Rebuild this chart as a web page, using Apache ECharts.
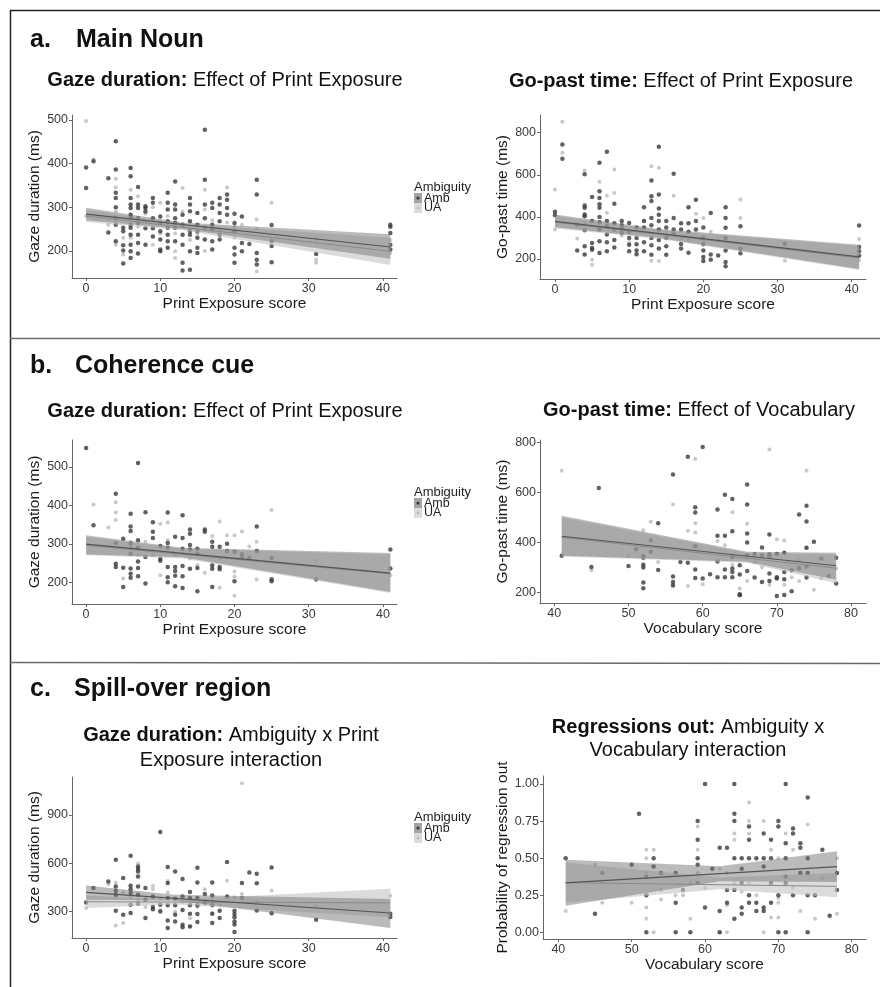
<!DOCTYPE html>
<html><head><meta charset="utf-8">
<script src="https://cdn.jsdelivr.net/npm/echarts@6/dist/echarts.min.js"></script>
<style>html,body{margin:0;padding:0;background:#fff}#c{width:880px;height:987px}</style>
</head><body><div id="c"></div>
<script>
// ---------------- DATA ----------------
const printTicks = [0, 10, 20, 30, 40];
const vocabTicks = [40, 50, 60, 70, 80];
const gazeTicksA = [200, 300, 400, 500];
const goPastTicksA = [200, 400, 600, 800];
const gazeTicksB = [200, 300, 400, 500];
const goPastTicksB = [200, 400, 600, 800];
const gazeTicksC = [300, 600, 900];
const probTicksC = [0, 0.25, 0.5, 0.75, 1];

// a. Main Noun - Gaze duration vs Print exposure
const aGazeAmb = [[0,391],[0,344],[1,405],[3,366],[3,242],[4,451],[4,386],[4,333],[4,321],[4,300],[4,275],[4,260],[4,222],
[5,253],[5,213],[5,201],[5,171],[5,245],[6,390],[6,371],[6,321],[6,306],[6,298],[6,283],[6,276],[6,260],[6,253],[6,237],[6,214],[6,199],[6,184],
[7,346],[7,306],[7,298],[7,275],[7,264],[7,237],[7,218],[7,194],[8,302],[8,298],[8,290],[8,252],[8,214],
[9,321],[9,310],[9,275],[9,252],[9,233],[10,279],[10,264],[10,245],[10,226],[10,203],[10,199],
[11,333],[11,310],[11,295],[11,268],[11,253],[11,237],[11,222],[11,207],[12,359],[12,306],[12,295],[12,275],[12,264],[12,253],[12,222],
[13,283],[13,260],[13,237],[13,214],[13,173],[13,155],[14,321],[14,306],[14,291],[14,268],[14,245],[14,237],[14,199],[14,157],
[15,287],[15,260],[15,245],[15,230],[15,207],[15,195],[16,477],[16,363],[16,306],[16,275],[16,253],[16,226],
[17,310],[17,298],[17,260],[17,249],[17,222],[17,203],[18,321],[18,306],[18,287],[18,268],[18,237],[18,226],
[19,329],[19,317],[19,298],[19,283],[20,285],[20,264],[20,245],[20,207],[20,192],[20,173],[21,279],[21,218],[21,199],[22,216],
[23,363],[23,329],[23,195],[23,180],[23,169],[25,259],[25,222],[25,211],[25,174],[31,193],[41,260],[41,255],[41,241],[41,214],[41,203]];
const aGazeUA = [[0,497],[0,280],[1,410],[3,260],[4,365],[4,345],[4,290],[4,214],[5,192],[5,230],[6,340],[6,280],[6,230],[7,325],[7,255],[8,285],[8,268],
[9,300],[9,214],[10,310],[10,240],[11,280],[12,199],[12,184],[12,240],[13,344],[13,290],[14,250],[14,225],[15,240],[16,340],[16,200],[16,295],[17,270],
[18,250],[19,345],[19,265],[20,230],[20,255],[21,260],[23,272],[23,153],[23,250],[25,310],[31,228],[31,180],[31,173],[41,195],[41,225]];
const aGazeBandAmb = [[0,270,299],[13,250,265],[41,182,238]];
const aGazeBandUA = [[0,266,294],[13,247,262],[41,168,230]];
const aGazeLineAmb = [[0,284],[41,209]];
const aGazeLineUA = [[0,280],[41,199]];

// a. Main Noun - Go-past time vs Print exposure
const aGoAmb = [[0,424],[0,408],[1,744],[1,676],[3,363],[3,240],[4,602],[4,454],[4,443],[4,411],[4,403],[4,337],[4,260],[4,221],
[5,494],[5,380],[5,276],[5,252],[5,244],[6,657],[6,522],[6,490],[6,460],[6,443],[6,400],[6,375],[6,340],[6,284],[6,229],
[7,710],[7,380],[7,355],[7,316],[7,280],[7,237],[8,462],[8,370],[8,340],[8,290],[8,255],[9,380],[9,360],[9,345],[9,324],
[10,371],[10,330],[10,300],[10,268],[10,237],[11,350],[11,300],[11,270],[11,240],[11,222],[12,446],[12,380],[12,350],[12,280],[12,237],
[13,573],[13,498],[13,475],[13,395],[13,360],[13,300],[13,265],[13,220],[14,733],[14,506],[14,440],[14,410],[14,380],[14,340],[14,290],[14,250],
[15,380],[15,350],[15,300],[15,260],[15,220],[16,605],[16,395],[16,340],[16,320],[17,370],[17,340],[17,271],[17,250],
[18,446],[18,370],[18,330],[18,230],[19,481],[19,380],[19,340],[20,350],[20,300],[20,270],[20,240],[20,210],[20,190],
[21,419],[21,221],[21,197],[22,217],[23,446],[23,395],[23,348],[23,300],[23,240],[23,186],[23,165],[25,356],[25,249],[25,227],
[31,273],[41,359],[41,257],[41,237],[41,216]];
const aGoUA = [[0,530],[0,340],[1,852],[1,705],[3,297],[4,620],[4,370],[5,197],[5,173],[6,567],[6,340],[7,500],[7,420],[8,625],[8,514],
[9,310],[10,280],[12,380],[13,192],[13,640],[14,633],[14,190],[15,330],[16,500],[17,300],[18,290],[19,415],[20,395],[20,280],[21,330],
[22,290],[25,483],[25,395],[31,192],[41,295],[41,194]];
const aGoBandAmb = [[0,351,411],[14,300,342],[41,152,268]];
const aGoBandUA = [[0,345,405],[14,296,338],[41,148,262]];
const aGoLineAmb = [[0,379],[41,210]];
const aGoLineUA = [[0,375],[41,205]];

// b. Coherence cue - Gaze duration vs Print exposure
const bGazeAmb = [[0,549],[1,348],[4,430],[4,302],[4,248],[4,240],[5,313],[5,238],[5,188],
[6,378],[6,345],[6,333],[6,300],[6,274],[6,236],[6,222],[6,212],[7,510],[7,309],[7,290],[7,254],[7,237],[7,216],
[8,382],[8,266],[8,197],[9,356],[9,331],[9,315],[10,294],[10,261],[10,256],[11,381],[11,302],[11,290],[11,240],[11,213],[11,200],
[12,318],[12,240],[12,229],[12,217],[12,190],[13,374],[13,315],[13,287],[13,242],[13,216],[13,185],
[14,337],[14,326],[14,297],[14,285],[14,235],[15,287],[15,274],[15,237],[15,177],[16,337],[16,331],
[17,305],[17,292],[17,244],[17,235],[17,188],[18,292],[18,240],[18,234],[19,300],[19,281],[20,279],[20,203],
[21,273],[21,263],[22,263],[23,345],[23,281],[25,263],[25,208],[25,203],[31,207],[41,285],[41,236]];
const bGazeUA = [[1,402],[3,342],[4,408],[4,381],[4,362],[5,210],[6,305],[6,290],[7,285],[7,270],[8,305],[9,270],[10,352],[10,218],
[11,355],[11,310],[12,270],[13,285],[14,262],[15,245],[16,225],[17,320],[18,358],[18,262],[18,186],[19,322],[20,322],[20,228],[20,215],[20,165],
[21,332],[22,293],[23,305],[23,207],[25,388],[31,256],[41,218]];
const bGazeBandAmb = [[0,272,322],[13,265,290],[41,175,276]];
const bGazeBandUA = [[0,270,318],[13,262,287],[41,172,272]];
const bGazeLineAmb = [[0,299],[41,224]];
const bGazeLineUA = [[0,296],[41,222]];

// b. Coherence cue - Go-past time vs Vocabulary
const bGoAmb = [[41,346],[45,301],[46,617],[50,305],[51,372],[52,344],[52,338],[52,310],[52,299],[52,239],[52,216],
[53,408],[53,362],[54,476],[54,289],[56,671],[56,263],[56,241],[56,227],[57,321],[58,742],[58,318],
[59,540],[59,519],[59,384],[59,291],[59,257],[60,781],[60,255],[61,272],[62,531],[62,426],[62,323],[62,260],
[63,590],[63,426],[63,291],[63,260],[64,573],[64,444],[64,341],[64,295],[64,281],[64,260],[65,308],[65,271],[65,192],[65,188],
[66,631],[66,551],[66,435],[66,399],[66,348],[66,285],[67,352],[67,259],[68,379],[68,348],[68,241],
[69,431],[69,351],[69,344],[69,275],[69,245],[70,353],[70,255],[70,260],[70,185],[71,358],[71,281],[71,252],[71,189],
[72,288],[72,204],[73,511],[73,297],[74,546],[74,483],[74,378],[74,303],[74,259],[75,402],[76,335],[77,265],[78,338],[78,235]];
const bGoUA = [[41,686],[45,288],[50,347],[52,448],[53,482],[54,321],[56,551],[56,230],[58,446],[58,225],[59,733],[59,476],[59,439],
[60,232],[62,405],[63,388],[64,520],[64,310],[65,215],[66,474],[66,245],[67,320],[68,300],[69,771],[69,230],[70,412],[71,407],[71,230],
[72,260],[73,245],[73,330],[74,686],[74,378],[75,210],[76,255],[78,295]];
const bGoBandAmb = [[41,346,506],[66,322,362],[78,250,358]];
const bGoBandUA = [[41,343,500],[66,318,357],[78,236,352]];
const bGoLineAmb = [[41,424],[78,306]];
const bGoLineUA = [[41,420],[78,296]];

// c. Spill-over region - Gaze duration vs Print exposure
const cGazeAmb = [[0,358],[1,447],[3,488],[4,623],[4,457],[4,430],[4,405],[4,306],[5,509],[5,281],
[6,648],[6,461],[6,440],[6,416],[6,343],[6,292],[7,581],[7,565],[7,550],[7,519],[7,457],[7,405],[7,350],
[8,447],[8,374],[8,261],[9,395],[9,330],[9,315],[10,795],[10,343],[10,302],[11,577],[11,478],[11,385],[11,340],[11,246],[11,199],
[12,550],[12,380],[12,340],[12,281],[12,240],[13,503],[13,395],[13,310],[13,219],[13,203],[14,422],[14,385],[14,340],[14,288],[14,209],
[15,573],[15,482],[15,385],[15,340],[15,286],[15,236],[16,410],[16,355],[17,482],[17,401],[17,340],[17,288],[17,230],
[18,306],[18,261],[19,608],[19,395],[20,306],[20,286],[20,265],[20,240],[20,220],[20,174],[21,478],[21,385],[22,544],
[23,536],[23,476],[23,308],[25,575],[25,290],[31,250],[41,288],[41,267]];
const cGazeUA = [[0,323],[3,470],[4,215],[4,480],[5,230],[5,420],[6,395],[7,600],[7,370],[8,330],[9,460],[9,440],[10,380],[10,310],
[11,490],[11,420],[12,300],[13,360],[14,210],[14,260],[15,330],[16,440],[17,365],[17,290],[18,340],[19,492],[20,390],[21,1097],[21,410],
[23,360],[25,432],[31,333],[41,399]];
const cGazeBandAmb = [[0,375,463],[12,370,405],[41,199,379]];
const cGazeBandUA = [[0,323,400],[12,345,375],[41,265,443]];
const cGazeLineAmb = [[0,420],[41,292]];
const cGazeLineUA = [[0,362],[41,355]];

// c. Spill-over region - Regressions out vs Vocabulary
const cRegAmb = [[41,0.5],[45,0.125],[46,0.4],[50,0.455],[51,0.8],[52,0.375],[52,0.25],[52,0],[53,0.5],[53,0.444],[54,0.4],
[56,0.4],[56,0.2],[56,0],[57,0.286],[58,0],[59,0.75],[59,0.625],[59,0.5],[59,0.455],[59,0.333],[60,1],[60,0.167],[61,0.429],
[62,0.571],[62,0.143],[62,0],[63,0.571],[63,0.286],[63,0.2],[64,1],[64,0.8],[64,0.75],[64,0.5],[64,0.286],[64,0.091],
[65,0.5],[65,0.429],[65,0.333],[65,0.167],[65,0.125],[66,0.714],[66,0.625],[66,0.5],[66,0.25],[66,0.2],[67,0.5],[67,0.2],[67,0.143],
[68,0.667],[68,0.5],[68,0.444],[68,0.167],[68,0.143],[69,0.625],[69,0.5],[69,0.333],[69,0.2],[70,0.75],[70,0.714],[70,0.25],[70,0],
[71,1],[71,0.6],[71,0.5],[71,0.375],[71,0.333],[71,0],[72,0.7],[72,0.667],[72,0.25],[73,0.6],[73,0.571],[73,0.4],
[74,0.909],[74,0.5],[74,0.4],[74,0.25],[74,0],[75,0.25],[76,0.556],[77,0.111],[78,0.4],[78,0.286]];
const cRegUA = [[41,0.143],[45,0.455],[46,0.2],[50,0.2],[52,0.556],[52,0.5],[52,0.4],[52,0.167],[52,0.091],[53,0.556],[53,0],[54,0.286],[54,0.222],
[56,0.25],[57,0.25],[58,0.091],[58,0.333],[59,0.714],[59,0.556],[59,0.4],[60,0.3],[62,0.429],[62,0],[63,0.4],[63,0.182],[63,0],
[64,0.667],[64,0.625],[64,0.333],[65,0.273],[66,0.875],[66,0.75],[66,0.667],[66,0.333],[67,0.25],[68,0.75],[68,0],[69,0.556],[69,0.1],
[70,0.5],[70,0.231],[70,0.2],[70,0.1],[71,0.667],[72,0.556],[72,0.3],[73,0.143],[74,0.727],[75,0.091],[76,0.364],[78,0.5],[78,0.125]];
const cRegBandAmb = [[41,0.18,0.49],[62,0.345,0.445],[78,0.34,0.546]];
const cRegBandUA = [[41,0.2,0.47],[62,0.29,0.37],[78,0.236,0.40]];
const cRegLineAmb = [[41,0.333],[78,0.443]];
const cRegLineUA = [[41,0.335],[78,0.31]];

// ---------------- LAYOUT / STYLE ----------------
const FF = 'Liberation Sans, Arial, sans-serif';
const AMB_PT = '#3a3a3a', UA_PT = '#bcbcbc';
const AMB_BAND = 'rgba(120,120,120,0.5)', UA_BAND = 'rgba(195,195,195,0.6)';

const panels = [
  {grid:{left:72, top:115, width:325, height:163}, xr:[-1.9,41.9], yr:[138,511], xt:printTicks, yt:gazeTicksA, xn:'Print Exposure score', yn:'Gaze duration (ms)',
   amb:aGazeAmb, ua:aGazeUA, bA:aGazeBandAmb, bU:aGazeBandUA, lA:aGazeLineAmb, lU:aGazeLineUA},
  {grid:{left:540, top:115, width:326, height:164}, xr:[-2.02,41.93], yr:[105,884], xt:printTicks, yt:goPastTicksA, xn:'Print Exposure score', yn:'Go-past time (ms)',
   amb:aGoAmb, ua:aGoUA, bA:aGoBandAmb, bU:aGoBandUA, lA:aGoLineAmb, lU:aGoLineUA},
  {grid:{left:72, top:440, width:325, height:164}, xr:[-1.9,41.9], yr:[143.6,569.6], xt:printTicks, yt:gazeTicksB, xn:'Print Exposure score', yn:'Gaze duration (ms)',
   amb:bGazeAmb, ua:bGazeUA, bA:bGazeBandAmb, bU:bGazeBandUA, lA:bGazeLineAmb, lU:bGazeLineUA},
  {grid:{left:540, top:440, width:326, height:163}, xr:[38.07,82.02], yr:[157,809], xt:vocabTicks, yt:goPastTicksB, xn:'Vocabulary score', yn:'Go-past time (ms)',
   amb:bGoAmb, ua:bGoUA, bA:bGoBandAmb, bU:bGoBandUA, lA:bGoLineAmb, lU:bGoLineUA},
  {grid:{left:72, top:777, width:325, height:161}, xr:[-1.9,41.9], yr:[137,1136], xt:printTicks, yt:gazeTicksC, xn:'Print Exposure score', yn:'Gaze duration (ms)',
   amb:cGazeAmb, ua:cGazeUA, bA:cGazeBandAmb, bU:cGazeBandUA, lA:cGazeLineAmb, lU:cGazeLineUA},
  {grid:{left:543, top:776, width:323, height:163}, xr:[37.91,81.95], yr:[-0.045,1.054], xt:vocabTicks, yt:probTicksC, xn:'Vocabulary score', yn:'Probability of regression out',
   amb:cRegAmb, ua:cRegUA, bA:cRegBandAmb, bU:cRegBandUA, lA:cRegLineAmb, lU:cRegLineUA, fmt:v=>v.toFixed(2)}
];

function axisCommon(ticks, fmt) {
  return {
    type:'value', splitLine:{show:false},
    axisLine:{show:true, onZero:false, lineStyle:{color:'#666', width:1}},
    axisTick:{show:true, length:3, customValues:ticks, lineStyle:{color:'#666', width:1}},
    axisLabel:{customValues:ticks, margin:4, fontFamily:FF, fontSize:12.5, color:'#3a3a3a', formatter: fmt || (v=>String(v))},
    nameLocation:'middle', nameTextStyle:{fontFamily:FF, fontSize:15.5, color:'#1a1a1a'}
  };
}

function bandSeries(gi, rows, color) {
  return {type:'custom', xAxisIndex:gi, yAxisIndex:gi, data:rows, z:4, silent:true, clip:true,
    encode:{x:0, y:[1,2]},
    renderItem:function(params, api){
      if (params.dataIndex !== 0) return null;
      const up = rows.map(r => api.coord([r[0], r[2]]));
      const lo = rows.map(r => api.coord([r[0], r[1]])).reverse();
      return {type:'polygon', shape:{points:up.concat(lo)}, style:{fill:color, stroke:null}};
    }};
}

const grid = [], xAxis = [], yAxis = [], series = [];
panels.forEach((p, i) => {
  grid.push(Object.assign({containLabel:false}, p.grid));
  xAxis.push(Object.assign(axisCommon(p.xt), {gridIndex:i, min:p.xr[0], max:p.xr[1], name:p.xn, nameGap:15}));
  yAxis.push(Object.assign(axisCommon(p.yt, p.fmt), {gridIndex:i, min:p.yr[0], max:p.yr[1], name:p.yn, nameGap:29}));
  series.push({type:'scatter', name:'UA', xAxisIndex:i, yAxisIndex:i, data:p.ua, symbolSize:4, itemStyle:{color:UA_PT}, z:2, silent:true});
  series.push({type:'scatter', name:'Amb', xAxisIndex:i, yAxisIndex:i, data:p.amb, symbolSize:4.5, itemStyle:{color:AMB_PT}, z:2, silent:true});
  series.push(bandSeries(i, p.bU, UA_BAND));
  series.push(bandSeries(i, p.bA, AMB_BAND));
  series.push({type:'line', xAxisIndex:i, yAxisIndex:i, data:p.lU, symbol:'none', lineStyle:{color:'#8a8a8a', width:1}, z:5, silent:true});
  series.push({type:'line', xAxisIndex:i, yAxisIndex:i, data:p.lA, symbol:'none', lineStyle:{color:'#555', width:1.2}, z:5, silent:true});
});

// ---------------- TEXT / FRAME ----------------
const graphic = [];
const txt = (x, y, text, size, opts) => graphic.push({type:'text', x, y, silent:true, z:10,
  style:Object.assign({text, fontFamily:FF, fontSize:size, fill:'#111', align:'left', verticalAlign:'middle'}, opts||{})});
const rich = {b:{fontWeight:'bold', fontFamily:FF, fontSize:20, fill:'#111'}, n:{fontFamily:FF, fontSize:20, fill:'#111'}};
const sub = (x, y, b, n) => graphic.push({type:'text', x, y, silent:true, z:10,
  style:{text:(b ? '{b|' + b + '}' : '') + '{n|' + n + '}', rich, align:'center', verticalAlign:'middle'}});
const line = (x1, y1, x2, y2, c, w) => graphic.push({type:'line', silent:true, z:10, shape:{x1, y1, x2, y2}, style:{stroke:c, lineWidth:w}});

line(10.5, 10, 10.5, 987, '#222', 1.5);
line(10, 10.5, 880, 10.5, '#222', 1.5);
line(10, 338.5, 880, 338.5, '#6a6a6a', 1.5);
line(10, 662.5, 880, 663.5, '#6a6a6a', 1.5);

txt(30, 40, 'a.', 25, {fontWeight:'bold'});
txt(76, 40, 'Main Noun', 25, {fontWeight:'bold'});
txt(30, 366, 'b.', 25, {fontWeight:'bold'});
txt(75, 366, 'Coherence cue', 25, {fontWeight:'bold'});
txt(30, 689, 'c.', 25, {fontWeight:'bold'});
txt(74, 689, 'Spill-over region', 25, {fontWeight:'bold'});

sub(225, 80, 'Gaze duration:', ' Effect of Print Exposure');
sub(681, 81, 'Go-past time:', ' Effect of Print Exposure');
sub(225, 411, 'Gaze duration:', ' Effect of Print Exposure');
sub(699, 410, 'Go-past time:', ' Effect of Vocabulary');
sub(231, 735.5, 'Gaze duration:', ' Ambiguity x Print');
sub(231, 760, '', 'Exposure interaction');
sub(688, 727, 'Regressions out:', ' Ambiguity x');
sub(688, 750.5, '', 'Vocabulary interaction');

// legends
[187, 492, 817].forEach(y0 => {
  txt(414, y0, 'Ambiguity', 13, {fill:'#222'});
  graphic.push({type:'rect', silent:true, z:10, shape:{x:414, y:y0+6, width:8, height:10}, style:{fill:'#a3a3a3'}});
  graphic.push({type:'circle', silent:true, z:11, shape:{cx:418, cy:y0+11, r:1.6}, style:{fill:AMB_PT}});
  graphic.push({type:'rect', silent:true, z:10, shape:{x:414, y:y0+16, width:8, height:10}, style:{fill:'#dcdcdc'}});
  graphic.push({type:'circle', silent:true, z:11, shape:{cx:418, cy:y0+21, r:1.4}, style:{fill:UA_PT}});
  txt(424, y0+12, 'Amb', 12.5, {fill:'#222'});
  txt(424, y0+21, 'UA', 12.5, {fill:'#222'});
});

const chart = echarts.init(document.getElementById('c'), null, {renderer:'canvas'});
chart.setOption({backgroundColor:'#fff', animation:false, grid, xAxis, yAxis, series, graphic});
</script></body></html>
